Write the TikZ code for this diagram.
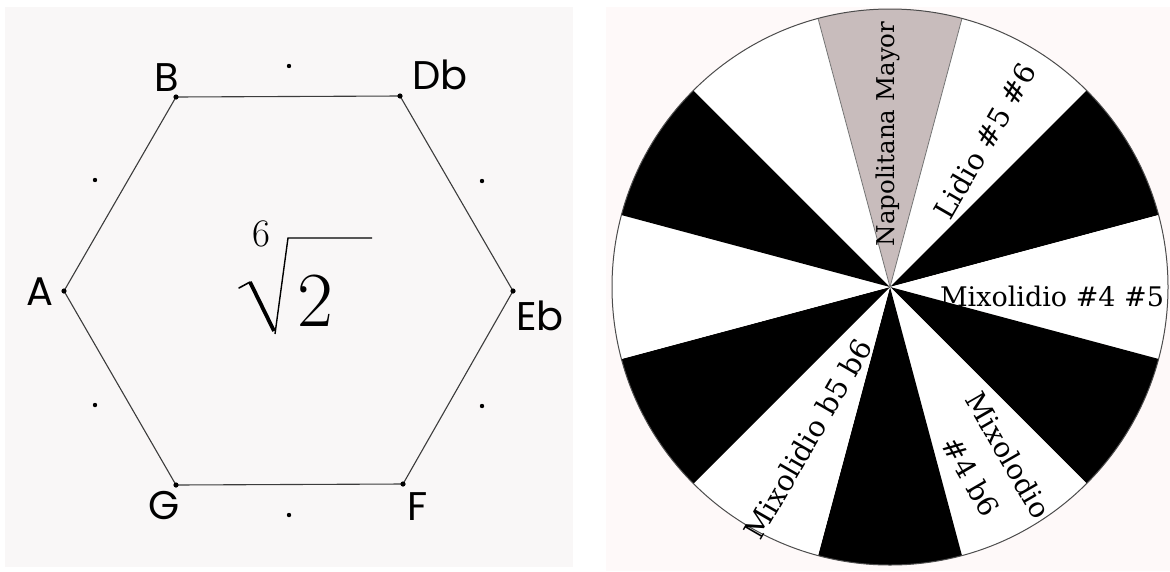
\documentclass[tikz,border=0pt]{standalone}
\usepackage{fontspec}
\newfontfamily\wheelfont{DejaVu Serif}
\newfontfamily\handfont{Poppins}
\definecolor{leftbg}{RGB}{249,247,247}
\definecolor{rightbg}{RGB}{254,249,249}
\definecolor{napgray}{RGB}{200,188,188}
\definecolor{hexgray}{RGB}{60,60,60}
\tikzset{
  hexline/.style={draw=hexgray, line width=1.1pt},
  vdot/.style={fill=black},
  vlabel/.style={font=\handfont\fontsize{40}{40}\selectfont, inner sep=0pt},
  wheeltext/.style={font=\wheelfont\fontsize{28.5}{28.5}\selectfont, inner sep=0pt},
  rimline/.style={draw=black!70, line width=1pt},
  edgeline/.style={draw=black!55, line width=0.8pt}
}
\begin{document}
\begin{tikzpicture}[x=1pt,y=1pt]
\useasboundingbox (0,0) rectangle (1170,-571);
\fill[white] (0,0) rectangle (1170,-571);
\fill[leftbg] (5,-7) rectangle (573,-567);
\fill[rightbg] (606,-7) rectangle (1170,-571);

% hexagon
\coordinate (B) at (176,-97);
\coordinate (Db) at (400,-96);
\coordinate (Eb) at (513,-291);
\coordinate (F) at (403,-484);
\coordinate (G) at (176,-485);
\coordinate (A) at (64,-291);
\draw[hexline] (B) -- (Db) -- (Eb) -- (F) -- (G) -- (A) -- cycle;
\foreach \p in {B,Db,Eb,F,G,A} \fill[vdot] (\p) circle (2.6);
\foreach \q in {(289,-66),(482,-181),(482,-406),(289,-515),(95,-405),(95,-180)} \fill[vdot] \q circle (2.2);

\node[vlabel] (lB) at (167,-78) {B};
\node[vlabel] (lDb) at (440,-75) {Db};
\node[vlabel] (lEb) at (540,-316) {Eb};
\node[vlabel] (lF) at (418,-507) {F};
\node[vlabel] (lG) at (164,-506) {G};
\node[vlabel] (lA) at (40,-292) {A};

% root
\node[inner sep=0pt, font=\fontsize{39}{39}\selectfont] (six) at (261,-234) {6};
\node[inner sep=0pt, font=\fontsize{78}{78}\selectfont] (two) at (315,-301) {2};
\draw[line width=1.6pt, line cap=round] (239,-288) -- (250,-282);
\draw[line width=3.8pt] (250,-282) -- (274,-331);
\draw[line width=1.4pt, line join=miter] (275,-334) -- (288,-238) -- (372,-238);

% wheel
\coordinate (O) at (890,-287);
\foreach \a/\c in {90/napgray,60/white,30/black,0/white,-30/black,-60/white,-90/black,-120/white,-150/black,180/white,150/black,120/white}
  \fill[\c] (O) -- ++(\a-15:278) arc[start angle=\a-15, end angle=\a+15, radius=278] -- cycle;
\draw[edgeline] (O) -- ++(75:278);
\draw[edgeline] (O) -- ++(105:278);
\draw[rimline] (O) circle (278);

\node[wheeltext, font=\wheelfont\fontsize{24.5}{24.5}\selectfont, rotate=90] (nap) at (888,-134) {Napolitana Mayor};
\node[wheeltext, rotate=60] (lid) at (985,-141) {Lidio \#5 \#6};
\node[wheeltext, font=\wheelfont\fontsize{27}{27}\selectfont] (mx45) at (1052,-296) {Mixolidio \#4 \#5};
\node[wheeltext, font=\wheelfont\fontsize{28}{43}\selectfont, rotate=-60, align=center] (mx4b6) at (990,-466) {Mixolodio\\\#4 b6};
\node[wheeltext, rotate=60] (mxb5) at (808,-439) {Mixolidio b5 b6};
\end{tikzpicture}
\end{document}
